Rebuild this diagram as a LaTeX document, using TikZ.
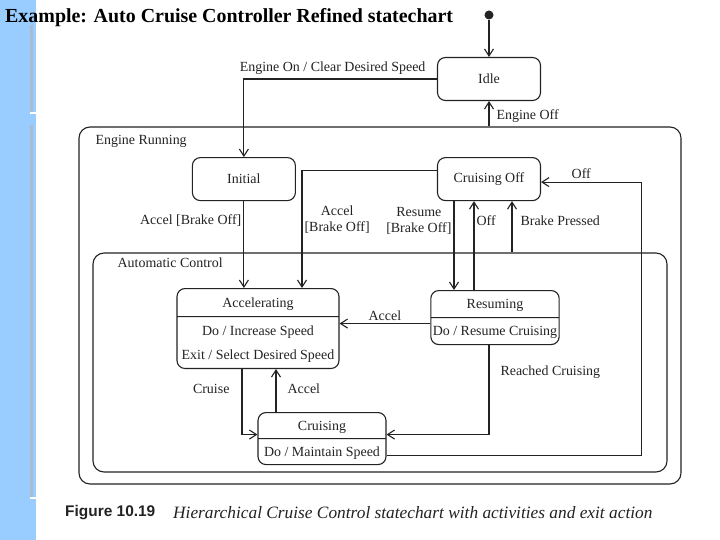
\documentclass[tikz,border=0pt]{standalone}
\usepackage{fontspec}
\setmainfont{Liberation Serif}
\newfontfamily\figfont{Liberation Sans}
\usetikzlibrary{positioning,arrows.meta,shapes.multipart}

\definecolor{slideblue}{RGB}{153,204,255}
\definecolor{slidegray}{RGB}{172,188,208}
\definecolor{ink}{RGB}{35,35,35}

\tikzset{
  state/.style={draw=ink, line width=1.1bp, rounded corners=8bp, minimum width=103bp, minimum height=43bp, inner sep=2bp},
  split/.style={draw=ink, line width=1.1bp, rounded corners=8bp, rectangle split, rectangle split parts=2,
    inner xsep=2bp, inner ysep=1bp, align=center, anchor=north, font=\fontsize{14}{24}\selectfont},
  region/.style={draw=ink, line width=1.1bp, rounded corners=11bp},
  trans/.style={draw=ink, line width=1.1bp, -{Straight Barb[length=7bp,width=9bp]}},
  lbl/.style={text=ink, inner sep=2bp},
}

\begin{document}
\begin{tikzpicture}[x=1bp, y=-1bp, font=\fontsize{14}{16}\selectfont, text=ink]
	\useasboundingbox (0,0) rectangle (720,540);
	% slide
	\fill[white] (0,0) rectangle (720,540);
	\fill[slideblue] (0,0) rectangle (36,540);
	\draw[slidegray, line width=2.5bp] (31.5,25) -- (31.5,113);
	\draw[slidegray, line width=2.5bp] (31.5,125) -- (31.5,498);
	\draw[white, line width=1.5bp] (30,113) -- (36,113);
	\draw[white, line width=1.5bp] (30,498) -- (36,498);
	\node[anchor=base west, inner sep=0, text=black, font=\fontsize{20}{22}\selectfont\bfseries] (title) at (5,23) {Example: Auto Cruise Controller Refined statechart};

	% composite states
	\node[region, minimum width=602bp, minimum height=357bp] (running) at (380,305.5) {};
	\node[lbl, anchor=north west] (runlbl) at ([xshift=15bp,yshift=-7bp]running.north west) {Engine Running};
	\node[region, minimum width=574bp, minimum height=219bp] (auto) at (380,362.5) {};
	\node[lbl, anchor=north west] (autolbl) at ([xshift=23bp,yshift=-3bp]auto.north west) {Automatic Control};

	% states
	\node[circle, fill=ink, inner sep=0, minimum size=9bp] (start) at (489,15) {};
	\node[state] (idle) at (489,79) {Idle};
	\node[state, below=56bp of idle] (cruiseoff) {Cruising Off};
	\node[state, left=141bp of cruiseoff] (initial) {Initial};
	\node[split, minimum width=162bp, inner ysep=1.5bp] (accel) at (258,288)
		{\strut Accelerating \nodepart{two}\strut Do / Increase Speed\\\strut Exit / Select Desired Speed};
	\node[split, minimum width=128bp] (resuming) at (495,290)
		{\strut Resuming \nodepart{two}\strut Do / Resume Cruising};
	\node[split, minimum width=128bp, inner ysep=0.5bp] (cruising) at (322,412)
		{\strut Cruising \nodepart{two}\strut Do / Maintain Speed};

	% transitions
	\draw[trans] (start) -- (idle);
	\draw[trans] (idle.west) -| node[lbl, pos=0, anchor=south east, xshift=-9bp, yshift=2bp] (engonlbl) {Engine On / Clear Desired Speed} (initial.north);
	\draw[trans] (idle.south |- running.north) -- node[lbl, right, xshift=5bp, yshift=-2bp] (engofflbl) {Engine Off} (idle.south);
	\draw[trans] (initial.south) -- node[lbl, left, pos=0.22] (accbolbl) {Accel [Brake Off]} (initial.south |- accel.north);
	\draw[trans] ([yshift=9bp]cruiseoff.west) -| node[lbl, right, pos=0.71, align=center] (accoflbl) {Accel\\{}[Brake Off]} ([xshift=44bp]accel.north);
	\draw[trans] ([xshift=-35bp]cruiseoff.south) -- node[lbl, left, pos=0.22, align=center] (resumelbl) {Resume\\{}[Brake Off]} ([xshift=-35bp]cruiseoff.south |- resuming.north);
	\draw[trans] ([xshift=-15bp]cruiseoff.south |- resuming.north) -- node[lbl, right, pos=0.78] (offlbl) {Off} ([xshift=-15bp]cruiseoff.south);
	\draw[trans] ([xshift=23bp]cruiseoff.south |- auto.north) -- node[lbl, right, pos=0.62, xshift=6bp] (brakelbl) {Brake Pressed} ([xshift=23bp]cruiseoff.south);
	\draw[trans] ([yshift=-17bp]cruising.east) -- ++(255bp,0) |- node[lbl, above, pos=0.8, yshift=1bp] (offtoplbl) {Off} ([yshift=-3bp]cruiseoff.east);
	\draw[trans] ([yshift=-6bp]resuming.west) -- node[lbl, above] (accrslbl) {Accel} ([yshift=-6bp]resuming.west -| accel.east);
	\draw[trans] ([xshift=-16bp]accel.south) |- node[lbl, left, pos=0.15, xshift=-10bp] (cruiselbl) {Cruise} ([yshift=4bp]cruising.west);
	\draw[trans] ([xshift=-46bp]cruising.north) -- node[lbl, right, pos=0.55, xshift=9bp] (acccrlbl) {Accel} ([xshift=-46bp]cruising.north |- accel.south);
	\draw[trans] ([xshift=-6bp]resuming.south) |- node[lbl, right, pos=0.15, xshift=9bp] (reachlbl) {Reached Cruising} ([yshift=4bp]cruising.east);

	% caption
	\node[anchor=west, inner sep=0, font=\figfont\bfseries\fontsize{15.5}{18}\selectfont] (fignum) at (65,513) {Figure 10.19};
	\node[anchor=west, inner sep=0, font=\itshape\fontsize{17.4}{20}\selectfont] (figcap) at (173,513) {Hierarchical Cruise Control statechart with activities and exit action};
\end{tikzpicture}
\end{document}
